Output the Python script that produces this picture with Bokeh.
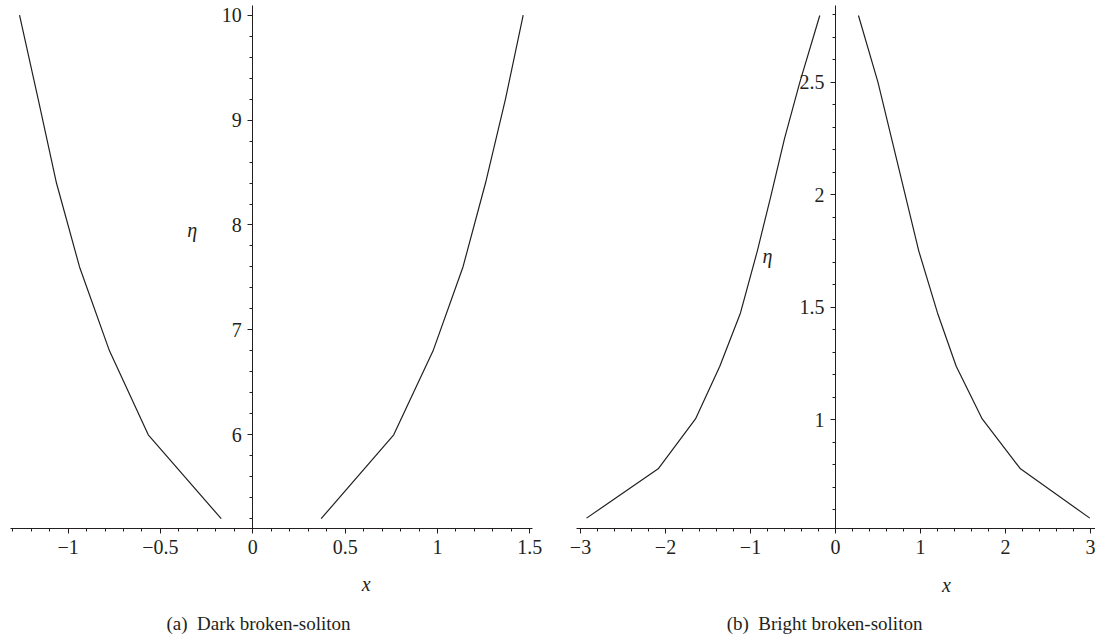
from bokeh.plotting import figure
from bokeh.layouts import row
from bokeh.models import Range1d, LinearAxis, SingleIntervalTicker, CustomJSTickFormatter
from bokeh.embed import file_html
from bokeh.resources import INLINE
from bokeh.core.properties import value

# ---- data: (a) dark broken-soliton ----
dark_eta = [5.2, 6.0, 6.8, 7.6, 8.4, 9.2, 10.0]
dark_x_left = [-0.171, -0.566, -0.776, -0.938, -1.063, -1.162, -1.263]
dark_x_right = [0.370, 0.763, 0.976, 1.138, 1.260, 1.368, 1.464]

# ---- data: (b) bright broken-soliton ----
bright_eta = [0.563, 0.782, 1.004, 1.238, 1.475, 1.75, 2.0, 2.25, 2.5, 2.797]
bright_x_left = [-2.929, -2.086, -1.647, -1.361, -1.118, -0.92, -0.757, -0.60, -0.42, -0.185]
bright_x_right = [2.992, 2.176, 1.726, 1.42, 1.20, 0.98, 0.82, 0.66, 0.50, 0.27]

captions = ["(a)\u00a0\u00a0Dark broken-soliton", "(b)\u00a0\u00a0Bright broken-soliton"]

FONT = "Liberation Serif"
INK = "#231f20"

fmt = CustomJSTickFormatter(code="return tick < 0 ? '\\u2212' + String(-tick) : String(tick);")


def style_axis(ax):
    ax.axis_line_color = INK
    ax.axis_line_width = 1
    ax.major_tick_line_color = INK
    ax.minor_tick_line_color = INK
    ax.major_tick_in = 0
    ax.major_tick_out = 5
    ax.minor_tick_in = 0
    ax.minor_tick_out = 3
    ax.major_label_text_font = FONT
    ax.major_label_text_font_size = "20px"
    ax.major_label_text_color = INK
    ax.major_label_standoff = 6
    ax.formatter = fmt


def make_panel(width, xr, yr, xbounds, ybounds, xint, xminor, yint, yminor):
    p = figure(width=width, height=636, x_range=Range1d(*xr), y_range=Range1d(*yr),
               output_backend="svg", toolbar_location=None,
               x_axis_location=None, y_axis_location=None, min_border=0)
    p.outline_line_color = None
    p.background_fill_color = "white"
    p.border_fill_color = "white"
    for g in p.grid:
        g.visible = False
    xa = LinearAxis(fixed_location=ybounds[0], bounds=xbounds,
                    ticker=SingleIntervalTicker(interval=xint, num_minor_ticks=xminor))
    ya = LinearAxis(fixed_location=0, bounds=ybounds,
                    ticker=SingleIntervalTicker(interval=yint, num_minor_ticks=yminor))
    style_axis(xa)
    style_axis(ya)
    p.add_layout(xa, "below")
    p.add_layout(ya, "left")
    return p


# left panel: 0 at px 252.3, 184.7 px/unit; eta 10 at py 14.7, 104.9 px/unit
p1 = make_panel(548, (-1.366, 1.601), (4.077, 10.140), (-1.312, 1.514), (5.104, 10.095),
                0.5, 5, 1, 5)
p1.line(dark_x_left, dark_eta, line_color=INK, line_width=1.2)
p1.line(dark_x_right, dark_eta, line_color=INK, line_width=1.2)
p1.text(x=[-0.328], y=[7.948], text=["η"], text_font=value(FONT), text_font_style="italic",
        text_font_size="20px", text_color=INK, text_align="center", text_baseline="middle")
p1.text(x=[0.614], y=[4.573], text=["x"], text_font=value(FONT), text_font_style="italic",
        text_font_size="20px", text_color=INK, text_align="center", text_baseline="middle")
p1.text(x=[0.031], y=[4.201], text=[captions[0]], text_font=value(FONT),
        text_font_size="19px", text_color=INK, text_align="center", text_baseline="middle")

# right panel: 0 at local px 287, 85 px/unit; eta 1 at py 419.3, 225 px/unit
p2 = make_panel(547, (-3.3765, 3.0588), (0.0369, 2.8636), (-3.05, 3.06), (0.516, 2.84),
                1, 5, 0.5, 5)
p2.line(bright_x_left, bright_eta, line_color=INK, line_width=1.2)
p2.line(bright_x_right, bright_eta, line_color=INK, line_width=1.2)
p2.text(x=[-0.80], y=[1.73], text=["η"], text_font=value(FONT), text_font_style="italic",
        text_font_size="20px", text_color=INK, text_align="center", text_baseline="middle")
p2.text(x=[1.306], y=[0.268], text=["x"], text_font=value(FONT), text_font_style="italic",
        text_font_size="20px", text_color=INK, text_align="center", text_baseline="middle")
p2.text(x=[-0.129], y=[0.0947], text=[captions[1]], text_font=value(FONT),
        text_font_size="19px", text_color=INK, text_align="center", text_baseline="middle")

layout = row(p1, p2)
open("out.html", "w").write(file_html(layout, INLINE))
